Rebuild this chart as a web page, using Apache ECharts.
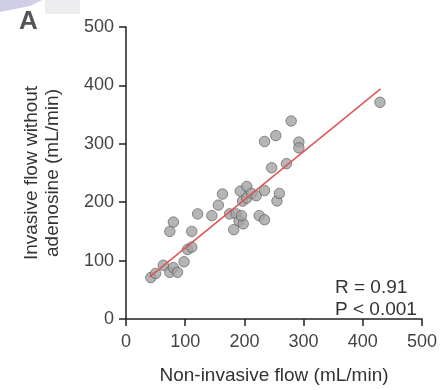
<!DOCTYPE html>
<html>
<head>
<meta charset="utf-8">
<script src="https://cdn.jsdelivr.net/npm/echarts@6/dist/echarts.min.js"></script>
<style>html,body{margin:0;padding:0;background:#fff}#c{width:444px;height:390px}</style>
</head>
<body>
<div id="c"></div>
<script>
// Scatter points: non-invasive flow (x) vs invasive flow without adenosine (y), mL/min
const nonInvasiveFlow = [42, 50, 63, 74, 80, 87, 74, 80, 98, 104, 111, 111, 121, 145, 156, 163, 175, 182, 186, 191, 198, 195, 193, 197, 204, 204, 212, 220, 225, 234, 234, 234, 253, 246, 255, 259, 271, 279, 292, 292, 429];
const invasiveFlow    = [71, 78, 92, 80, 88, 80, 150, 166, 98, 119, 123, 150, 180, 177, 195, 214, 180, 153, 180, 168, 163, 177, 219, 202, 227, 207, 215, 211, 177, 170, 220, 304, 314, 259, 202, 215, 266, 339, 303, 293, 371];
// Regression line endpoints
const fitX = [40, 430];
const fitY = [72, 394];
// Axis ticks
const xTicks = [0, 100, 200, 300, 400, 500];
const yTicks = [0, 100, 200, 300, 400, 500];
const statLines = ['R = 0.91', 'P < 0.001'];

const FONT = '"Liberation Sans", Arial, sans-serif';
const chart = echarts.init(document.getElementById('c'), null, {renderer: 'canvas'});
const pts = nonInvasiveFlow.map((x, i) => [x, invasiveFlow[i]]);
const fit = fitX.map((x, i) => [x, fitY[i]]);

chart.setOption({
  animation: false,
  backgroundColor: '#ffffff',
  grid: {left: 126, right: 22, top: 27, bottom: 68, containLabel: false},
  xAxis: {
    type: 'value', min: xTicks[0], max: xTicks[xTicks.length - 1], interval: 100,
    name: 'Non-invasive flow (mL/min)', nameLocation: 'middle', nameGap: 47,
    nameTextStyle: {fontFamily: FONT, fontSize: 19, color: '#333'},
    axisLine: {show: true, onZero: false, lineStyle: {color: '#222', width: 1.5}},
    axisTick: {show: true, length: 7, lineStyle: {color: '#222', width: 1.5}},
    axisLabel: {fontFamily: FONT, fontSize: 18, color: '#444', margin: 14},
    splitLine: {show: false}
  },
  yAxis: {
    type: 'value', min: yTicks[0], max: yTicks[yTicks.length - 1], interval: 100,
    name: 'Invasive flow without\nadenosine (mL/min)', nameLocation: 'middle', nameGap: 63,
    nameTextStyle: {fontFamily: FONT, fontSize: 19, color: '#333', lineHeight: 21},
    axisLine: {show: true, onZero: false, lineStyle: {color: '#222', width: 1.5}},
    axisTick: {show: true, length: 7, lineStyle: {color: '#222', width: 1.5}},
    axisLabel: {fontFamily: FONT, fontSize: 18, color: '#444', margin: 12},
    splitLine: {show: false}
  },
  series: [
    {
      type: 'line', data: fit, symbol: 'none', z: 3,
      lineStyle: {color: '#dd5555', width: 1.5}
    },
    {
      type: 'scatter', data: pts, symbol: 'circle', symbolSize: 10.5, z: 2,
      itemStyle: {color: '#a3a3a3', borderColor: '#555', borderWidth: 0.8}
    }
  ],
  graphic: [
    {type: 'polygon', shape: {points: [[0,0],[42,0],[30,6],[0,12]]}, style: {fill: 'rgba(150,145,200,0.45)'}, silent: true},
    {type: 'rect', shape: {x: 45, y: 0, width: 35, height: 14}, style: {fill: 'rgba(225,225,230,0.6)'}, silent: true},
    {type: 'text', left: 19, top: 9, style: {text: 'A', font: 'bold 26px ' + FONT, fill: '#555'}},
    {type: 'text', left: 335, top: 278, style: {text: statLines[0], font: '19px ' + FONT, fill: '#333'}},
    {type: 'text', left: 335, top: 300, style: {text: statLines[1], font: '19px ' + FONT, fill: '#333'}}
  ]
});
</script>
</body>
</html>
